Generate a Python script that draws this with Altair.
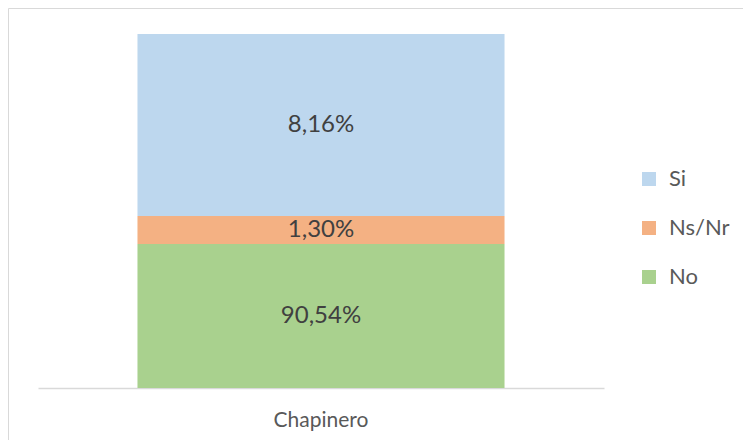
import altair as alt
import pandas as pd

# Data
categories = ["No", "Ns/Nr", "Si"]
bar_heights = [40.7, 7.9, 51.4]          # visual segment heights as drawn (share of bar)
label_texts = ["90,54%", "1,30%", "8,16%"]
group = ["Chapinero", "Chapinero", "Chapinero"]
order_idx = [0, 1, 2]
legend_order = ["Si", "Ns/Nr", "No"]
legend_colors = ["#bdd7ee", "#f4b183", "#a9d18e"]

df = pd.DataFrame({
    "grupo": group,
    "cat": categories,
    "val": bar_heights,
    "lab": label_texts,
    "ord": order_idx,
})

W, H = 566, 354
total = sum(bar_heights)

xenc = alt.X("grupo:N", title=None,
             scale=alt.Scale(paddingInner=0, paddingOuter=0.271),
             axis=alt.Axis(labelAngle=0, labelFont="Lato", labelFontSize=21,
                           labelColor="#595959", labelPadding=21, ticks=False,
                           domainColor="#d9d9d9", domainWidth=1.5))

base = alt.Chart(df).transform_stack(
    stack="val", groupby=["grupo"], as_=["y0", "y1"], sort=[alt.SortField("ord")]
).transform_calculate(mid="(datum.y0 + datum.y1) / 2")

yscale = alt.Scale(domain=[0, total], nice=False)

bars = base.mark_bar().encode(
    x=xenc,
    y=alt.Y("y0:Q", scale=yscale, axis=None),
    y2="y1:Q",
    color=alt.Color("cat:N",
                    scale=alt.Scale(domain=legend_order, range=legend_colors),
                    legend=alt.Legend(title=None, orient="none", legendX=600, legendY=134,
                                      symbolType="square", symbolSize=196,
                                      symbolStrokeWidth=0, labelFont="Lato",
                                      labelFontSize=22, labelColor="#595959",
                                      rowPadding=27, labelOffset=9),
                    ),
)

texts = base.mark_text(font="Lato", fontSize=24, color="#404040", baseline="middle").encode(
    x=xenc,
    y=alt.Y("mid:Q", scale=yscale),
    text="lab:N",
)

frame = pd.DataFrame({"k": [1]})
left_line = alt.Chart(frame).mark_rule(color="#d9d9d9", strokeWidth=1).encode(
    x=alt.value(-29.5), y=alt.value(-25.5), y2=alt.value(H + 200)
)
top_line = alt.Chart(frame).mark_rule(color="#d9d9d9", strokeWidth=1).encode(
    y=alt.value(-25.5), x=alt.value(-29.5), x2=alt.value(W + 300)
)

chart = alt.layer(bars, texts, left_line, top_line).properties(
    width=W, height=H,
    autosize=alt.AutoSizeParams(type="none"),
    padding={"left": 30, "top": 26, "right": 139, "bottom": 52},
).configure_view(stroke=None)

chart.save("out.html", embed_options={"renderer": "svg", "actions": False})
